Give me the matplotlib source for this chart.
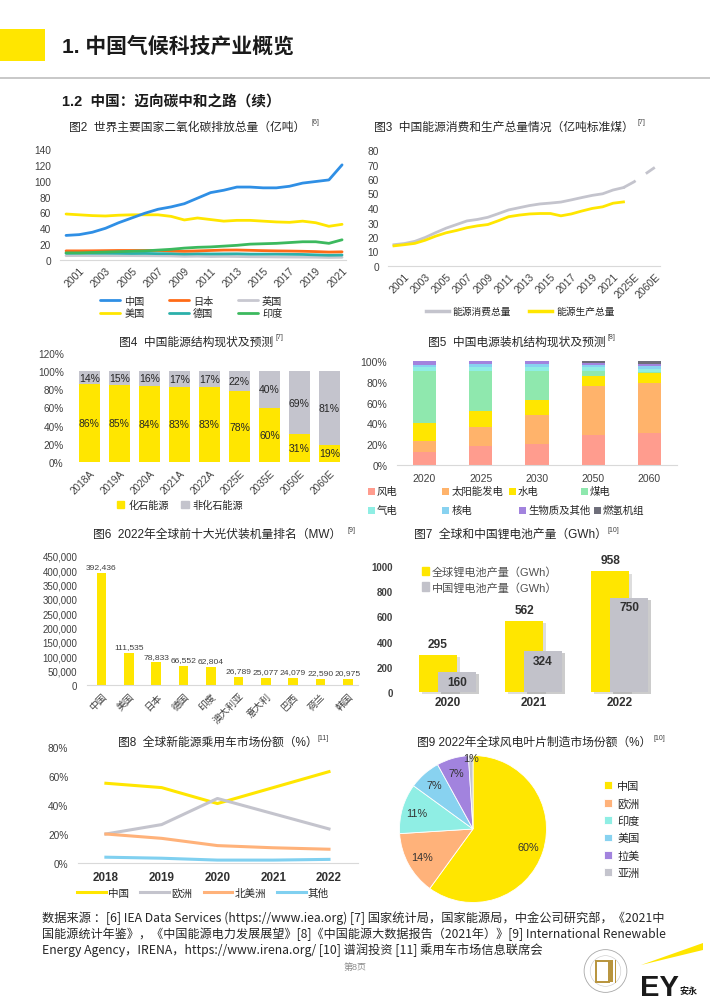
import matplotlib
matplotlib.use('Agg')
import matplotlib.pyplot as plt
import numpy as np
from matplotlib.patches import Rectangle, Circle, Polygon, Patch
from matplotlib.lines import Line2D
from matplotlib.ticker import FuncFormatter

plt.rcParams['font.family'] = ['Liberation Sans', 'Noto Sans CJK SC', 'DejaVu Sans']
plt.rcParams['axes.unicode_minus'] = False

# ---------------- data ----------------
co2_years = [str(y) for y in range(2000, 2022)]
co2_china = [31, 32, 35, 40, 47, 53, 59, 64, 67, 71, 78, 85, 88, 92, 92, 91, 91, 93, 97, 99, 101, 120]
co2_usa = [58, 57, 56, 55.5, 56.5, 57, 57, 57, 55, 50.5, 53, 51, 49, 50, 50, 49, 48, 47.5, 49, 47, 42.5, 45]
co2_japan = [11.5, 11.5, 11.6, 11.8, 12, 12, 12, 12, 11.6, 11, 11.5, 12, 12.5, 12.6, 12.2, 11.8, 11.5, 11.3, 11, 10.6, 10, 10.3]
co2_germany = [8.5, 8.6, 8.5, 8.5, 8.4, 8.2, 8.3, 8, 8, 7.5, 7.8, 7.6, 7.7, 7.8, 7.4, 7.4, 7.4, 7.2, 7, 6.5, 6, 6.3]
co2_uk = [5.5, 5.6, 5.5, 5.5, 5.5, 5.5, 5.4, 5.3, 5.1, 4.6, 4.8, 4.4, 4.6, 4.4, 4.1, 4, 3.8, 3.7, 3.6, 3.5, 3.2, 3.4]
co2_india = [9, 9, 9.5, 10, 10.5, 11, 11.5, 12.5, 13.5, 15, 16, 16.5, 17.5, 18.5, 20, 20.5, 21, 22, 23, 23, 21, 25.5]

energy_years = [str(y) for y in range(2000, 2023)]
energy_cons = [14.7, 15.5, 17.0, 19.7, 23.0, 26.1, 28.6, 31.1, 32.1, 33.6, 36.1, 38.7, 40.2, 41.7, 42.8,
               43.4, 44.1, 45.6, 47.2, 48.7, 49.8, 52.4, 54.1]
energy_prod = [13.9, 14.7, 15.6, 17.8, 20.6, 22.9, 24.5, 26.4, 27.7, 28.6, 31.2, 34.0, 35.1, 35.9, 36.2,
               36.2, 34.6, 35.9, 37.9, 39.7, 40.8, 43.3, 44.2]
energy_fc_labels = ['2025E', '2060E']
energy_fc_cons = [58, 68]

mix_years = ['2018A', '2019A', '2020A', '2021A', '2022A', '2025E', '2035E', '2050E', '2060E']
mix_fossil = [86, 85, 84, 83, 83, 78, 60, 31, 19]
mix_nonfossil = [14, 15, 16, 17, 17, 22, 40, 69, 81]

cap_years = ['2020', '2025', '2030', '2050', '2060']
cap_names = ['风电', '太阳能发电', '水电', '煤电', '气电', '核电', '生物质及其他', '燃氢机组']
cap_wind = [12.2, 18.0, 20.3, 29.3, 30.9]
cap_solar = [11.3, 19.0, 27.3, 46.3, 47.9]
cap_hydro = [17.3, 15.4, 14.8, 9.9, 9.6]
cap_coal = [49.2, 37.6, 27.6, 4.5, 0.6]
cap_gas = [4.2, 4.2, 4.5, 3.9, 3.4]
cap_nuclear = [2.3, 2.8, 2.9, 2.6, 2.9]
cap_bio = [3.5, 3.0, 2.6, 1.2, 2.0]
cap_h2 = [0, 0, 0, 2.3, 2.7]

pv_countries = ['中国', '美国', '日本', '德国', '印度', '澳大利亚', '意大利', '巴西', '荷兰', '韩国']
pv_mw = [392436, 111535, 78833, 66552, 62804, 26789, 25077, 24079, 22590, 20975]

li_years = ['2020', '2021', '2022']
li_global = [295, 562, 958]
li_china = [160, 324, 750]

nev_years = ['2018', '2019', '2020', '2021', '2022']
nev_china = [55, 52, 41, 52, 63]
nev_europe = [20, 26.5, 44.5, 34, 23.5]
nev_na = [20, 17, 12, 10.5, 9.5]
nev_other = [4, 3.3, 2, 2, 2.5]

blade_regions = ['中国', '欧洲', '印度', '美国', '拉美', '亚洲']
blade_share = [60, 14, 11, 7, 7, 1]

# ---------------- colours ----------------
YEL = '#FFE600'
GRY = '#C4C4CD'
TXT = '#262626'
TCK = '#404040'

W, H = 710, 1004
fig = plt.figure(figsize=(W / 100, H / 100), dpi=100)
fig.patch.set_facecolor('white')


def axpx(l, t, r, b):
    return fig.add_axes([l / W, 1 - b / H, (r - l) / W, (b - t) / H])


def ftext(x, y, s, **kw):
    return fig.text(x / W, 1 - y / H, s, **kw)


def style(ax, bottom=True, ls=7.3):
    for s in ['top', 'right', 'left']:
        ax.spines[s].set_visible(False)
    ax.spines['bottom'].set_visible(bottom)
    ax.spines['bottom'].set_color('#D9D9D9')
    ax.tick_params(length=0, colors=TCK, labelsize=ls)
    ax.set_facecolor('none')


def rot(ax):
    for lbl in ax.get_xticklabels():
        lbl.set_rotation(45)
        lbl.set_ha('right')
        lbl.set_rotation_mode('anchor')


def title(cx, cy, s, sx, sy, sup):
    ftext(cx, cy, s, ha='center', va='center', fontsize=8.5, color=TXT)
    ftext(sx, sy, sup, ha='left', va='center', fontsize=5, color=TCK)


# ---------------- header ----------------
fig.add_artist(Rectangle((0, 1 - 62 / H), 45 / W, 32 / H, transform=fig.transFigure, color=YEL, lw=0))
ftext(62, 47, '1. 中国气候科技产业概览', ha='left', va='center', fontsize=15, fontweight='bold', color='#1a1a1a')
fig.add_artist(Line2D([0, 1], [1 - 79 / H] * 2, transform=fig.transFigure, color='#BFBFBF', lw=1.2))
ftext(62, 102, '1.2  中国：迈向碳中和之路（续）', ha='left', va='center', fontsize=10.5, fontweight='bold', color='#1a1a1a')

# ---------------- Fig 2 ----------------
title(187, 128, '图2  世界主要国家二氧化碳排放总量（亿吨）', 312, 122, '[6]')
ax2 = axpx(60, 150, 346, 261)
x2 = np.arange(len(co2_years))
series2 = {'英国': (co2_uk, '#C8C8D0'), '德国': (co2_germany, '#2BB0AA'), '日本': (co2_japan, '#FF6B17'),
           '印度': (co2_india, '#3CB95E'), '美国': (co2_usa, '#FFE600'), '中国': (co2_china, '#2F8FE5')}
h2 = {}
for name, (vals, col) in series2.items():
    h2[name], = ax2.plot(x2, vals, color=col, lw=2.0, solid_capstyle='round')
ax2.set_xlim(-0.46, 21.3)
ax2.set_ylim(0, 140)
ax2.set_yticks(range(0, 141, 20))
ax2.set_xticks(x2[1::2])
ax2.set_xticklabels(co2_years[1::2])
style(ax2)
ax2.tick_params(axis='y', pad=6.5)
ax2.tick_params(axis='x', pad=3.5, labelsize=7.5)
rot(ax2)
order2 = ['中国', '美国', '日本', '德国', '英国', '印度']
fig.legend([h2[k] for k in order2], order2, ncol=3, loc='center', bbox_to_anchor=(191 / W, 1 - 308 / H),
           frameon=False, fontsize=7.3, handlelength=2.0, handletextpad=0.4, columnspacing=2.4,
           labelspacing=0.25, labelcolor=TXT)

# ---------------- Fig 3 ----------------
title(504, 128, '图3  中国能源消费和生产总量情况（亿吨标准煤）', 638, 123, '[7]')
ax3 = axpx(388, 151, 660, 267)
x3 = np.arange(len(energy_years))
xf = np.array([len(energy_years), len(energy_years) + 2])
ax3.plot(x3, energy_cons, color=GRY, lw=2.0)
ax3.plot(np.r_[x3[-1], xf], np.r_[energy_cons[-1], energy_fc_cons], color=GRY, lw=2.0, dashes=(5, 4.5))
ax3.plot(x3, energy_prod, color=YEL, lw=2.0)
ax3.set_xlim(-0.57, 25.5)
ax3.set_ylim(0, 80)
ax3.set_yticks(range(0, 81, 10))
ax3.set_xticks(list(x3[1::2]) + list(xf))
ax3.set_xticklabels(energy_years[1::2] + energy_fc_labels)
style(ax3)
ax3.tick_params(axis='y', pad=6.5)
ax3.tick_params(axis='x', pad=3.5, labelsize=7.5)
rot(ax3)
fig.legend([Line2D([], [], color=GRY, lw=2.5), Line2D([], [], color=YEL, lw=2.5)], ['能源消费总量', '能源生产总量'],
           ncol=2, loc='center', bbox_to_anchor=(520 / W, 1 - 312 / H), frameon=False, fontsize=7,
           handlelength=2.4, handletextpad=0.4, columnspacing=1.8, labelcolor=TXT)

# ---------------- Fig 4 ----------------
title(196, 343, '图4  中国能源结构现状及预测', 275, 338, '[7]')
ax4 = axpx(72, 354, 345, 463)
x4 = np.arange(len(mix_years))
b4a = ax4.bar(x4, mix_fossil, width=0.69, color=YEL)
b4b = ax4.bar(x4, mix_nonfossil, width=0.69, bottom=mix_fossil, color=GRY)
ax4.bar_label(b4a, labels=[f'{v}%' for v in mix_fossil], label_type='center', fontsize=7.5, color=TXT)
ax4.bar_label(b4b, labels=[f'{v}%' for v in mix_nonfossil], label_type='center', fontsize=7.5, color=TXT)
ax4.set_xlim(-0.58, 8.52)
ax4.set_ylim(0, 120)
ax4.set_yticks(range(0, 121, 20))
ax4.yaxis.set_major_formatter(FuncFormatter(lambda v, p: f'{v:.0f}%'))
ax4.set_xticks(x4)
ax4.set_xticklabels(mix_years)
style(ax4, bottom=False, ls=7.2)
ax4.tick_params(axis='y', pad=6)
ax4.tick_params(axis='x', pad=4)
rot(ax4)
fig.legend([Patch(color=YEL), Patch(color=GRY)], ['化石能源', '非化石能源'], ncol=2, loc='center',
           bbox_to_anchor=(180 / W, 1 - 506 / H), frameon=False, fontsize=7.3, handlelength=0.75,
           handleheight=0.75, handletextpad=0.4, columnspacing=1.2, labelcolor=TXT)

# ---------------- Fig 5 ----------------
title(517, 343, '图5  中国电源装机结构现状及预测', 607, 338, '[8]')
ax5 = axpx(397, 362, 677, 466)
x5 = np.arange(len(cap_years))
cap_series = [cap_wind, cap_solar, cap_hydro, cap_coal, cap_gas, cap_nuclear, cap_bio, cap_h2]
cap_colors = ['#FF9C8E', '#FFB36B', '#FFE600', '#8FE8AE', '#8FEEE4', '#88D2F0', '#A283DE', '#6E6E7A']
bottom = np.zeros(len(cap_years))
for vals, col in zip(cap_series, cap_colors):
    ax5.bar(x5, vals, width=0.41, bottom=bottom, color=col, lw=0)
    bottom = bottom + np.array(vals)
ax5.set_xlim(-0.49, 4.49)
ax5.set_ylim(0, 100)
ax5.set_yticks(range(0, 101, 20))
ax5.yaxis.set_major_formatter(FuncFormatter(lambda v, p: f'{v:.0f}%'))
ax5.set_xticks(x5)
ax5.set_xticklabels(cap_years)
style(ax5, ls=7.5)
ax5.tick_params(axis='y', pad=7)
ax5.tick_params(axis='x', pad=5.5)
leg5_pos = [(371, 492), (446, 492), (512, 492), (584, 492), (371, 511), (446, 511), (522, 511), (597, 511)]
for (lx, ly), name, col in zip(leg5_pos, cap_names, cap_colors):
    fig.add_artist(Rectangle(((lx - 3.5) / W, 1 - (ly + 3.5) / H), 7 / W, 7 / H, transform=fig.transFigure,
                             color=col, lw=0))
    ftext(lx + 6, ly, name, ha='left', va='center', fontsize=7.5, color=TXT)

# ---------------- Fig 6 ----------------
title(217, 535, '图6  2022年全球前十大光伏装机量排名（MW）', 347, 530, '[9]')
ax6 = axpx(87, 557, 358, 686)
x6 = np.arange(len(pv_countries))
b6 = ax6.bar(x6, pv_mw, width=0.35, color=YEL)
ax6.bar_label(b6, labels=[f'{v:,}' for v in pv_mw], padding=2, fontsize=6.1, color=TCK)
ax6.set_xlim(-0.53, 9.37)
ax6.set_ylim(0, 450000)
ax6.set_yticks(range(0, 450001, 50000))
ax6.yaxis.set_major_formatter(FuncFormatter(lambda v, p: f'{int(v):,}'))
ax6.set_xticks(x6)
ax6.set_xticklabels(pv_countries)
style(ax6, ls=7)
ax6.tick_params(axis='y', pad=7)
ax6.tick_params(axis='x', pad=4, labelsize=7)
rot(ax6)

# ---------------- Fig 7 ----------------
title(510, 535, '图7  全球和中国锂电池产量（GWh）', 608, 530, '[10]')
ax7 = axpx(400, 567, 680, 693)
x7 = np.arange(len(li_years))
off = 0.11
wd = 0.44
ax7.bar(x7 - off + 0.035, li_global, width=wd, bottom=-18, color='#9E9E9E', alpha=0.35, lw=0, zorder=1, clip_on=False)
ax7.bar(x7 - off, li_global, width=wd, color=YEL, lw=0, zorder=2)
ax7.bar(x7 + off + 0.035, li_china, width=wd, bottom=-18, color='#8E8E8E', alpha=0.45, lw=0, zorder=3, clip_on=False)
ax7.bar(x7 + off, li_china, width=wd, color='#C2C2CA', lw=0, zorder=4)
for xi, g, c in zip(x7, li_global, li_china):
    ax7.annotate(f'{g}', (xi - off, g), xytext=(0, 8), textcoords='offset points', ha='center', va='center',
                 fontsize=8.6, fontweight='bold', color='#303030', zorder=5)
    ax7.annotate(f'{c}', (xi + off, c), xytext=(0, -7), textcoords='offset points', ha='center', va='center',
                 fontsize=8.6, fontweight='bold', color='#303030', zorder=5)
ax7.set_xlim(-0.55, 2.70)
ax7.set_ylim(0, 1000)
ax7.set_yticks(range(0, 1001, 200))
ax7.set_xticks(x7)
ax7.set_xticklabels(li_years, fontweight='bold')
style(ax7, bottom=False, ls=7)
ax7.tick_params(axis='y', pad=5)
ax7.tick_params(axis='x', pad=3, labelsize=8.5, colors='#303030')
for lbl in ax7.get_yticklabels():
    lbl.set_fontweight('bold')
fig.legend([Patch(color=YEL), Patch(color='#C2C2CA')], ['全球锂电池产量（GWh）', '中国锂电池产量（GWh）'],
           loc='upper left', bbox_to_anchor=(412 / W, 1 - 557 / H), frameon=False, fontsize=8,
           handlelength=0.6, handleheight=0.75, handletextpad=0.3, labelspacing=0.45, labelcolor='#505050')

# ---------------- Fig 8 ----------------
title(218, 743, '图8  全球新能源乘用车市场份额（%）', 318, 738, '[11]')
ax8 = axpx(78, 748, 358, 864)
x8 = np.arange(len(nev_years))
nev = [('中国', nev_china, YEL), ('欧洲', nev_europe, GRY), ('北美洲', nev_na, '#FFB27A'), ('其他', nev_other, '#80D0F0')]
h8 = []
for name, vals, col in nev:
    h, = ax8.plot(x8, vals, color=col, lw=2.2)
    h8.append(h)
ax8.set_xlim(-0.5, 4.52)
ax8.set_ylim(0, 80)
ax8.set_yticks(range(0, 81, 20))
ax8.yaxis.set_major_formatter(FuncFormatter(lambda v, p: f'{v:.0f}%'))
ax8.set_xticks(x8)
ax8.set_xticklabels(nev_years, fontweight='bold')
style(ax8, ls=7.3)
ax8.tick_params(axis='y', pad=7)
ax8.tick_params(axis='x', pad=6, labelsize=8.4, colors='#303030')
fig.legend(h8, [n for n, _, _ in nev], ncol=4, loc='center', bbox_to_anchor=(203 / W, 1 - 894 / H),
           frameon=False, fontsize=7.6, handlelength=2.7, handletextpad=0.2, columnspacing=1.1, labelcolor=TXT)

# ---------------- Fig 9 ----------------
title(534, 743, '图9 2022年全球风电叶片制造市场份额（%）', 653, 738, '[10]')
ax9 = axpx(398, 755, 548, 905)
blade_colors = [YEL, '#FFB27A', '#8FEEE4', '#88D2F0', '#A283DE', GRY]
wedges, _ = ax9.pie(blade_share, colors=blade_colors, startangle=90, counterclock=False, radius=0.98,
                    wedgeprops=dict(edgecolor='white', linewidth=0.6))
for i, (wdg, v) in enumerate(zip(wedges, blade_share)):
    ang = np.deg2rad((wdg.theta1 + wdg.theta2) / 2)
    r = 0.95 if i == len(blade_share) - 1 else 0.78
    ax9.text(r * np.cos(ang), r * np.sin(ang), f'{v}%', ha='center', va='center', fontsize=7.8, color='#333333')
ax9.set_xlim(-1, 1)
ax9.set_ylim(-1, 1)
ax9.set_aspect('equal')
ax9.axis('off')
fig.legend(wedges, blade_regions, loc='upper left', bbox_to_anchor=(594 / W, 1 - 772 / H), frameon=False,
           fontsize=8, handlelength=0.7, handleheight=0.7, handletextpad=0.5, labelspacing=0.62, labelcolor=TXT)

# ---------------- footer ----------------
renderer = fig.canvas.get_renderer()
foot = ['数据来源 ：[6] IEA Data Services (https://www.iea.org) [7] 国家统计局，国家能源局，中金公司研究部，《2021中',
        '国能源统计年鉴》，《中国能源电力发展展望》[8]《中国能源大数据报告（2021年）》[9] International Renewable',
        'Energy Agency，IRENA，https://www.irena.org/ [10] 谱润投资 [11] 乘用车市场信息联席会']
fy = [918, 934, 950]
fs_first = None
for i, (s, y) in enumerate(zip(foot, fy)):
    t = ftext(42, y, s, ha='left', va='center', fontsize=8, color=TXT, family=['Noto Sans CJK SC'])
    if i < 2:
        w = t.get_window_extent(renderer).width
        t.set_fontsize(8 * 623 / w)
        if fs_first is None:
            fs_first = 8 * 623 / w
    else:
        t.set_fontsize(fs_first)
ftext(355, 967, '第8页', ha='center', va='center', fontsize=6.5, color='#8C8C8C')

# seal logo
axs = axpx(583, 948, 628, 996)
axs.set_xlim(-1, 1)
axs.set_ylim(-1, 1)
axs.set_aspect('equal')
axs.axis('off')
axs.add_patch(Circle((0, 0), 0.95, facecolor='white', edgecolor='#A8A8A8', lw=0.6))
axs.add_patch(Circle((0, 0), 0.68, facecolor='none', edgecolor='#C8C8C8', lw=0.4))
axs.add_patch(Rectangle((-0.42, -0.5), 0.56, 0.95, facecolor='none', edgecolor='#B8943C', lw=1.4))
axs.add_patch(Rectangle((0.22, -0.5), 0.1, 1.0, color='#B8943C', lw=0))
axs.add_patch(Rectangle((0.4, -0.55), 0.08, 1.05, color='#B8943C', lw=0))

# EY logo
fig.add_artist(Polygon([[641 / W, 1 - 966 / H], [703 / W, 1 - 944 / H], [703 / W, 1 - 951 / H]],
                       closed=True, transform=fig.transFigure, color=YEL, lw=0))
ftext(640, 996, 'EY', ha='left', va='baseline', fontsize=21, fontweight='bold', color='#1a1a1a')
ftext(679, 994, '安永', ha='left', va='baseline', fontsize=6.5, fontweight='bold', color='#1a1a1a')

fig.savefig('out.png', dpi=100, facecolor='white')
